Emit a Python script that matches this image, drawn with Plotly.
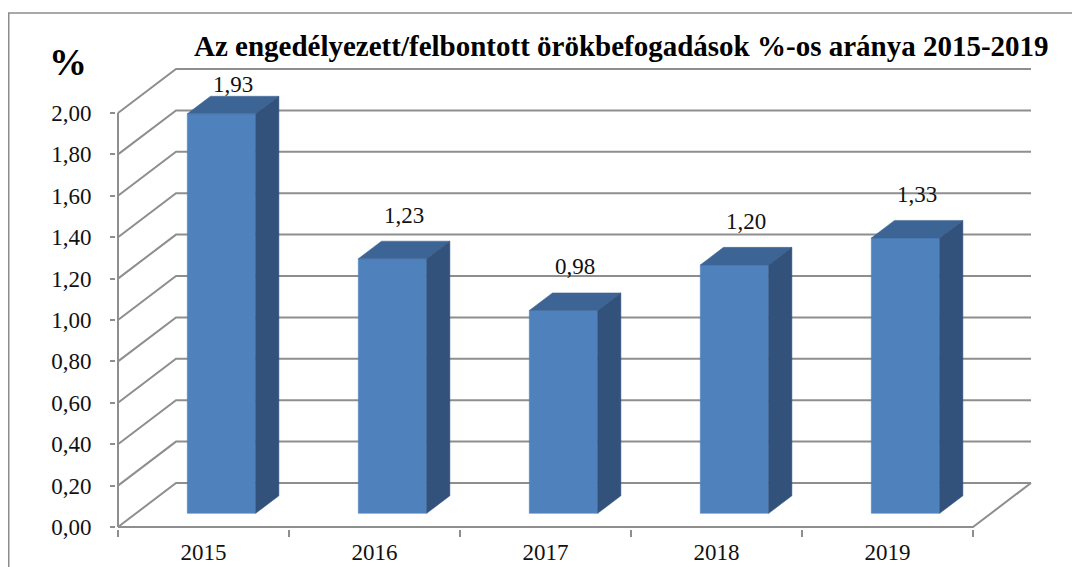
import plotly.graph_objects as go

# ---- data ----
years = ["2015", "2016", "2017", "2018", "2019"]
values = [1.93, 1.23, 0.98, 1.20, 1.33]
y_ticks = [0.0, 0.2, 0.4, 0.6, 0.8, 1.0, 1.2, 1.4, 1.6, 1.8, 2.0]
y_tick_text = ["0,00", "0,20", "0,40", "0,60", "0,80", "1,00", "1,20", "1,40", "1,60", "1,80", "2,00"]
title_text = "Az engedélyezett/felbontott örökbefogadások %-os aránya 2015-2019"

# ---- geometry / style ----
W, H = 1072, 567
L, R, T, B = 116, 32, 60, 38
plot_w = W - L - R
plot_h = H - T - B
px_x = 171.0          # pixels per category
px_y = 207.0          # pixels per value unit
x_lo = -0.5 - 2 / px_x
y_lo = -2 / px_y
x_rng = [x_lo, x_lo + plot_w / px_x]
y_rng = [y_lo, y_lo + plot_h / px_y]


def sx(px):
    return (px - L) / plot_w


def sy(py):
    return (H - B - py) / plot_h


DX = 58 / px_x        # 3D depth offset (x)
DY = 44 / px_y        # 3D depth offset (y)
F0 = 0.31             # bar front depth fraction
FD = 0.40             # bar depth fraction
BW = 0.40             # bar width (category units)
n = len(years)
x_left, x_right = -0.5, n - 0.5

GRID = "#8e8e8e"
FRONT = "#4F81BD"
TOP = "#3C6494"
SIDE = "#32527C"
SERIF = "Liberation Serif"

fig = go.Figure()

# walls / gridlines
gx, gy = [], []
for v in y_ticks:
    gx += [x_left, x_left + DX, x_right + DX, None]
    gy += [v, v + DY, v + DY, None]
gx += [x_left, x_right, x_right + DX, None]
gy += [0, 0, DY, None]
gx += [x_left, x_left, None]
gy += [0, y_ticks[-1], None]
fig.add_trace(go.Scatter(x=gx, y=gy, mode="lines",
                         line=dict(color=GRID, width=2), hoverinfo="skip",
                         showlegend=False))

# bars
for i, v in enumerate(values):
    x0 = i - BW / 2 + F0 * DX
    x1 = i + BW / 2 + F0 * DX
    yb = F0 * DY
    yt = yb + v
    ox, oy = FD * DX, FD * DY
    faces = [
        ([x0, x1, x1, x0, x0], [yb, yb, yt, yt, yb], FRONT),
        ([x0, x1, x1 + ox, x0 + ox, x0], [yt, yt, yt + oy, yt + oy, yt], TOP),
        ([x1, x1 + ox, x1 + ox, x1, x1], [yb, yb + oy, yt + oy, yt, yb], SIDE),
    ]
    for fx, fy, col in faces:
        fig.add_trace(go.Scatter(x=fx, y=fy, mode="lines", fill="toself",
                                 fillcolor=col, line=dict(color=col, width=0.5),
                                 hoverinfo="skip", showlegend=False))

# value labels (kept below the title band)
label_cap = y_ticks[-1] + 0.13
lab_x = [i + (F0 + FD / 2) * DX for i in range(n)]
lab_y = [min(v + (F0 + FD / 2) * DY + 0.16, label_cap) for v in values]
fig.add_trace(go.Scatter(x=lab_x, y=lab_y, mode="text",
                         text=[f"{v:.2f}".replace(".", ",") for v in values],
                         textfont=dict(family=SERIF, size=23, color="#111111"),
                         cliponaxis=False, hoverinfo="skip", showlegend=False))

fig.update_layout(
    width=W, height=H,
    margin=dict(l=L, r=R, t=T, b=B, autoexpand=False),
    paper_bgcolor="white", plot_bgcolor="white",
    xaxis=dict(range=x_rng, showgrid=False, zeroline=False, showline=False,
               tickmode="array", tickvals=list(range(n)), ticktext=years,
               ticks="", ticklabelstandoff=7,
               tickfont=dict(family=SERIF, size=23, color="#111111"),
               minor=dict(tickmode="array",
                          tickvals=[k - 0.5 for k in range(n + 1)],
                          ticks="outside", ticklen=7, tickwidth=2,
                          tickcolor=GRID, showgrid=False),
               fixedrange=True),
    yaxis=dict(range=y_rng, showgrid=False, zeroline=False, showline=False,
               tickmode="array", tickvals=y_ticks, ticktext=y_tick_text,
               ticks="outside", ticklen=5, tickwidth=2, tickcolor=GRID,
               ticklabelstandoff=14,
               tickfont=dict(family=SERIF, size=23, color="#111111"),
               fixedrange=True),
    annotations=[
        dict(text=f"<b>{title_text}</b>", xref="paper", yref="paper",
             x=sx(621), y=sy(46),
             xanchor="center", yanchor="middle", showarrow=False,
             font=dict(family=SERIF, size=29, color="#000000")),
        dict(text="<b>%</b>", xref="paper", yref="paper",
             x=sx(68), y=sy(62),
             xanchor="center", yanchor="middle", showarrow=False,
             font=dict(family=SERIF, size=38, color="#000000")),
    ],
    shapes=[
        dict(type="rect", xref="paper", yref="paper",
             x0=sx(8.75), x1=sx(W + 30),
             y0=sy(H + 30), y1=sy(13),
             line=dict(color="#8c8c8c", width=1.5), fillcolor="rgba(0,0,0,0)",
             layer="below"),
    ],
)

fig.write_html(
    "out.html",
    config={"displayModeBar": False},
    post_script="document.body.style.margin='0';document.body.style.overflow='hidden';",
)
